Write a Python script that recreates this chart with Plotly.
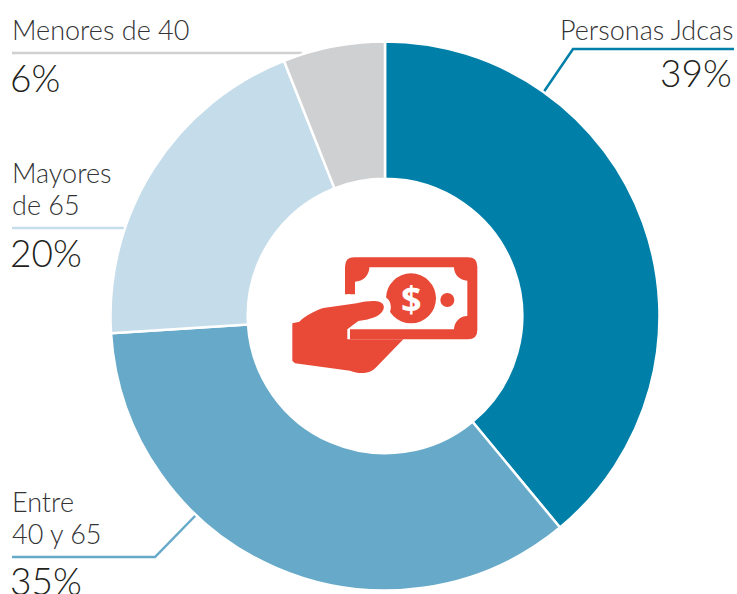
import plotly.graph_objects as go

W, H = 737, 594
categories = ["Personas Jdcas", "Entre 40 y 65", "Mayores de 65", "Menores de 40"]
values = [39, 35, 20, 6]
colors = ["#007FA8", "#66A9C8", "#C5DDEA", "#CFD0D2"]
value_labels = ["39%", "35%", "20%", "6%"]
label_lines = [["Personas Jdcas"], ["Entre", "40 y 65"], ["Mayores", "de 65"], ["Menores de 40"]]

RED = "#E84A37"
TEXT = "#333335"
DARK = "#231F20"


def px(x):
    return x / W


def py(y):
    return 1 - y / H


def zp(points):
    """Icon path from crop coordinates (commands and x,y pairs) to paper coordinates."""
    out = []
    for p in points:
        if isinstance(p, str):
            out.append(p)
        else:
            out.append(f"{px(270 + p[0] / 3):.5f},{py(240 + p[1] / 3):.5f}")
    return " ".join(out)


def path_shape(points, fill=None, line=None, width=0):
    return dict(type="path", xref="paper", yref="paper", path=zp(points),
                fillcolor=fill or "rgba(0,0,0,0)", layer="above",
                line=dict(color=line or "rgba(0,0,0,0)", width=width))


def circle(cx, cy, r, fill):
    return dict(type="circle", xref="paper", yref="paper", layer="above",
                x0=px(270 + (cx - r) / 3), x1=px(270 + (cx + r) / 3),
                y0=py(240 + (cy + r) / 3), y1=py(240 + (cy - r) / 3),
                fillcolor=fill, line=dict(width=0))


def leader(pts, color):
    d = "M " + " L ".join(f"{px(x):.5f},{py(y):.5f}" for x, y in pts)
    return dict(type="path", xref="paper", yref="paper", path=d, layer="below",
                line=dict(color=color, width=2.5), fillcolor="rgba(0,0,0,0)")


shapes = [
    leader([(543, 93), (573, 49), (734, 49)], colors[0]),
    leader([(197, 514), (155, 557), (12, 557)], colors[1]),
    leader([(125, 228), (12, 228)], colors[2]),
    leader([(302, 58), (301, 53), (12, 53)], colors[3]),
]

# Banknote
shapes += [
    path_shape(["M", (225, 163), "L", (225, 80), "Q", (225, 52), (253, 52), "L", (594, 52),
                "Q", (622, 52), (622, 80), "L", (622, 270), "Q", (622, 298), (594, 298),
                "L", (240, 298), "L", (240, 163), "Z"], fill=RED),
    path_shape(["M", (298, 82), "L", (552, 82), "C", (552, 104), (570, 122), (592, 122),
                "L", (592, 228), "C", (570, 228), (552, 246), (552, 268),
                "L", (232, 268), "L", (232, 163), "L", (255, 163),
                "L", (255, 125), "C", (279, 125), (298, 106), (298, 82), "Z"], fill="#FFFFFF"),
    circle(423, 175, 75, RED),
    circle(532, 180, 21, RED),
]

# Hand
thumb = ["M", (160, 204), "L", (260, 190), "C", (290, 183), (315, 181), (330, 186),
         "C", (345, 192), (346, 208), (330, 222), "C", (320, 230), (310, 234), (300, 237)]
shapes += [
    path_shape(thumb, line="#FFFFFF", width=14),
    path_shape(["M", (67, 250), "L", (88, 245), "C", (105, 228), (135, 212), (160, 204), "L", (260, 190),
                "C", (290, 183), (315, 181), (330, 186), "C", (345, 192), (346, 208), (330, 222),
                "C", (315, 234), (290, 240), (265, 243), "L", (232, 268), "L", (232, 298), "L", (400, 298),
                "L", (320, 380), "C", (300, 402), (270, 404), (240, 392), "L", (75, 370),
                "L", (67, 362), "Z"], fill=RED),
]

fig = go.Figure(go.Pie(
    labels=categories, values=values, hole=0.5, sort=False, direction="clockwise", rotation=0,
    marker=dict(colors=colors, line=dict(color="#FFFFFF", width=2.5)),
    textinfo="none", hoverinfo="label+percent", showlegend=False,
    domain=dict(x=[px(110.5), px(659.5)], y=[py(590.5), py(41.5)]),
))


def note(text, x, y, size, anchor="left", color=TEXT, bold=False, family="Lato", weight=300):
    fig.add_annotation(text=text, xref="paper", yref="paper", x=px(x), y=py(y), showarrow=False,
                       xanchor=anchor, yanchor="middle", align=anchor,
                       font=dict(family=family, size=size, color=color, weight=700 if bold else weight),
                       borderpad=0, borderwidth=0)


LABEL_SIZE = 27
note(label_lines[0][0], 734, 30, LABEL_SIZE, "right")
note(label_lines[1][0], 12, 501, LABEL_SIZE)
note(label_lines[1][1], 12, 533, LABEL_SIZE)
note(label_lines[2][0], 12, 172, LABEL_SIZE)
note(label_lines[2][1], 12, 204, LABEL_SIZE)
note(label_lines[3][0], 12, 30, LABEL_SIZE)
note(value_labels[0], 732, 73, 37, "right", DARK)
note(value_labels[1], 10, 580, 37, "left", DARK)
note(value_labels[2], 10, 252, 37, "left", DARK)
note(value_labels[3], 10, 77, 37, "left", DARK)
note("$", 411, 298, 36, "center", "#FFFFFF", True, "Open Sans")

fig.update_layout(width=W, height=H, margin=dict(l=0, r=0, t=0, b=0), autosize=False,
                  paper_bgcolor="#FFFFFF", plot_bgcolor="#FFFFFF", shapes=shapes)
fig.write_html("out.html", config=dict(displayModeBar=False),
               post_script="document.body.style.margin='0';document.documentElement.style.overflow='hidden';")
